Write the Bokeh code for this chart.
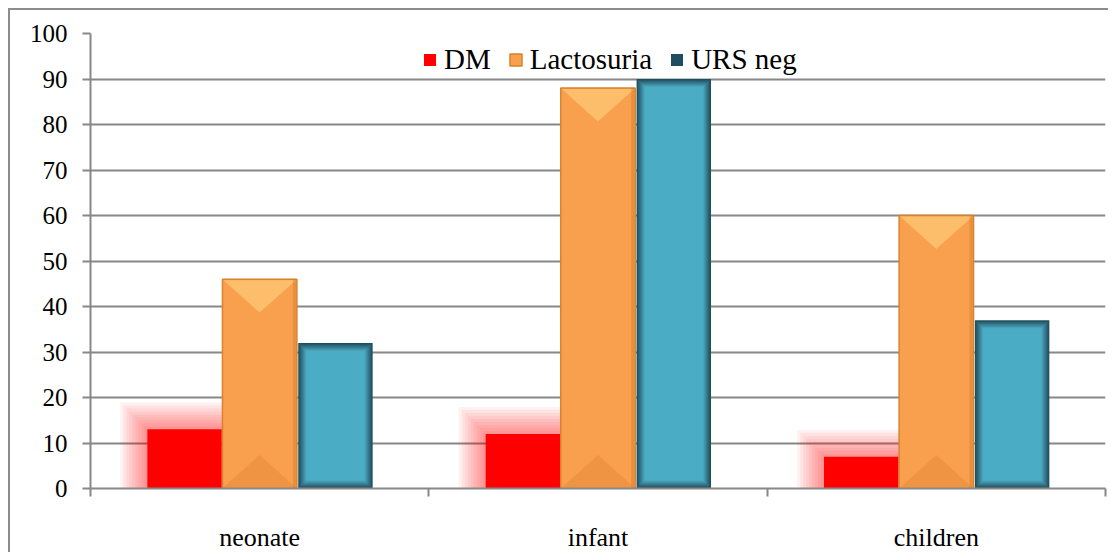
from bokeh.plotting import figure
from bokeh.models import Range1d, FixedTicker, Legend, LegendItem
from bokeh.embed import file_html
from bokeh.resources import INLINE

# ---- data ----
categories = ["neonate", "infant", "children"]
dm = [13, 12, 7]
lactosuria = [46, 88, 60]
urs_neg = [32, 90, 37]
y_ticks = [0, 10, 20, 30, 40, 50, 60, 70, 80, 90, 100]

# ---- layout / style ----
FRAME_W, FRAME_H = 1015, 456
W, H = 1100, 544
LEFT, TOP = 80, 23
FONT = "'Liberation Serif', 'Times New Roman', serif"
GRID = "#878787"
BAR_W = 0.22
OFFS = [-0.222, 0.0, 0.224]
PX_X = 3.0 / FRAME_W
PX_Y = 100.0 / FRAME_H

p = figure(width=W, height=H, x_range=Range1d(0, 3), y_range=Range1d(0, 100),
           output_backend="svg", toolbar_location=None,
           min_border_left=LEFT, min_border_right=W - LEFT - FRAME_W,
           min_border_top=TOP, min_border_bottom=H - TOP - FRAME_H,
           styles={"margin-left": "8px", "margin-top": "8px",
                   "border-left": "2px solid #8C8C8C", "border-top": "2px solid #8C8C8C"})
p.outline_line_color = None
p.xgrid.visible = False
p.ygrid.grid_line_color = GRID
p.ygrid.grid_line_width = 2
p.yaxis.ticker = FixedTicker(ticks=y_ticks)
p.yaxis.axis_line_color = GRID
p.yaxis.axis_line_width = 2
p.yaxis.major_tick_line_color = GRID
p.yaxis.major_tick_line_width = 2
p.yaxis.major_tick_out = 8
p.yaxis.major_tick_in = 0
p.yaxis.minor_tick_line_color = None
p.yaxis.major_label_standoff = 15
p.yaxis.major_label_text_font = FONT
p.yaxis.major_label_text_font_size = "25px"
p.yaxis.major_label_text_color = "black"

n = len(categories)
centers = [i + 0.5 for i in range(n)]
p.xaxis.ticker = FixedTicker(ticks=centers, minor_ticks=list(range(n + 1)))
p.xaxis.major_label_overrides = {c: lab for c, lab in zip(centers, categories)}
p.xaxis.axis_line_color = GRID
p.xaxis.axis_line_width = 2
p.xaxis.major_tick_line_color = None
p.xaxis.minor_tick_line_color = GRID
p.xaxis.minor_tick_line_width = 2
p.xaxis.minor_tick_out = 8
p.xaxis.minor_tick_in = 0
p.xaxis.major_label_standoff = 26
p.xaxis.major_label_text_font = FONT
p.xaxis.major_label_text_font_size = "26px"
p.xaxis.major_label_text_color = "black"

# ---- DM bars with glow ----
dm_x = [c + OFFS[0] for c in centers]
for k in range(9, 0, -1):
    p.quad(left=[x - BAR_W / 2 - k * 3 * PX_X for x in dm_x],
           right=[x + BAR_W / 2 + k * 3 * PX_X for x in dm_x],
           top=[v + k * 3 * PX_Y for v in dm], bottom=[0] * n,
           fill_color="#FF0000", fill_alpha=0.055, line_color=None)
dm_r = p.quad(left=[x - BAR_W / 2 for x in dm_x], right=[x + BAR_W / 2 for x in dm_x],
              top=dm, bottom=[0] * n, fill_color="#FF0000", line_color=None)

# ---- Lactosuria bars with bevel ----
lx = [c + OFFS[1] for c in centers]
lac_r = p.quad(left=[x - BAR_W / 2 for x in lx], right=[x + BAR_W / 2 for x in lx],
               top=lactosuria, bottom=[0] * n, fill_color="#F9A04E",
               line_color="#D9822E", line_width=1.5)
half_px = BAR_W / 2 / PX_X
bev = 0.9 * half_px * PX_Y
top_xs = [[x - BAR_W / 2 + PX_X, x + BAR_W / 2 - PX_X, x] for x in lx]
top_ys = [[v - PX_Y, v - PX_Y, v - bev] for v in lactosuria]
p.patches(top_xs, top_ys, fill_color="#FDBE6C", line_color=None)
bot_ys = [[PX_Y, PX_Y, bev] for v in lactosuria]
p.patches(top_xs, bot_ys, fill_color="#EE9443", line_color=None)
p.quad(left=[x + BAR_W / 2 - 4 * PX_X for x in lx], right=[x + BAR_W / 2 - PX_X for x in lx],
       top=lactosuria, bottom=[0] * n, fill_color="#C9711F", fill_alpha=0.35, line_color=None)

# ---- URS neg bars with soft inner shadow ----
ux = [c + OFFS[2] for c in centers]
urs_r = p.quad(left=[x - BAR_W / 2 for x in ux], right=[x + BAR_W / 2 for x in ux],
               top=urs_neg, bottom=[0] * n, fill_color="#1F4F5E", line_color=None)
shade = ["#25596A", "#2C6577", "#327184", "#387D91", "#3E899E", "#4495AE", "#48A2BB", "#4BACC6"]
for i, col in enumerate(shade):
    inset = i + 1
    p.quad(left=[x - BAR_W / 2 + inset * PX_X for x in ux],
           right=[x + BAR_W / 2 - inset * PX_X for x in ux],
           top=[v - inset * PX_Y for v in urs_neg], bottom=[inset * PX_Y] * n,
           fill_color=col, line_color=None)

# ---- legend ----
legend = Legend(items=[LegendItem(label="DM", renderers=[dm_r]),
                       LegendItem(label="Lactosuria", renderers=[lac_r]),
                       LegendItem(label="URS neg", renderers=[urs_r])],
                orientation="horizontal", location=(332, 412),
                label_text_font=FONT, label_text_font_size="29px",
                label_text_color="black", glyph_width=15, glyph_height=15,
                label_standoff=7, spacing=17, padding=4, margin=0,
                border_line_color=None, background_fill_color="white",
                background_fill_alpha=1.0)
p.add_layout(legend, "center")

open("out.html", "w").write(file_html(p, INLINE))
